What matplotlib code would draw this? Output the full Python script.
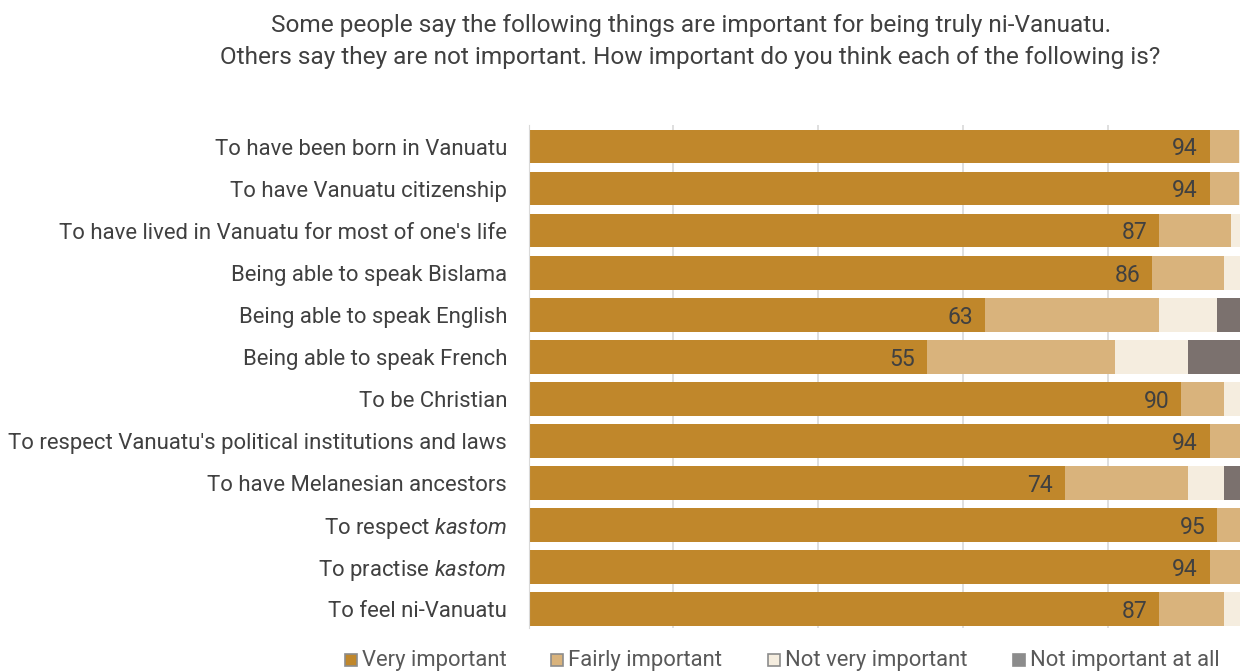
import numpy as np
import matplotlib
matplotlib.use('Agg')
import matplotlib.pyplot as plt
from matplotlib.patches import Rectangle

plt.rcParams['font.family'] = ['Roboto', 'DejaVu Sans']
plt.rcParams['mathtext.fontset'] = 'custom'
plt.rcParams['mathtext.rm'] = 'Roboto'
plt.rcParams['mathtext.it'] = 'Roboto:italic'

# statements, top to bottom
items = [
    'To have been born in Vanuatu',
    'To have Vanuatu citizenship',
    "To have lived in Vanuatu for most of one's life",
    'Being able to speak Bislama',
    'Being able to speak English',
    'Being able to speak French',
    'To be Christian',
    "To respect Vanuatu's political institutions and laws",
    'To have Melanesian ancestors',
    'To respect $\\it{kastom}$',
    'To practise $\\it{kastom}$',
    'To feel ni-Vanuatu',
]

very = [94, 94, 87, 86, 63, 55, 90, 94, 74, 95, 94, 87]
fairly = [4, 4, 10, 10, 24, 26, 6, 5, 17, 4, 5, 9]
not_very = [1, 1, 2, 3, 8, 10, 3, 1, 5, 1, 1, 3]
not_at_all = [1, 1, 1, 1, 5, 9, 1, 0, 4, 0, 0, 1]

series = ['Very important', 'Fairly important', 'Not very important', 'Not important at all']
colors = ['#C0872B', '#D9B37C', '#F5EDDF', '#7B716E']

fig = plt.figure(figsize=(12.4, 6.72), dpi=100)
ax = fig.add_axes([0.4263, 0.0655, 0.5737, 0.7485])

y = np.arange(len(items))[::-1]
left = np.zeros(len(items))
for vals, col in zip([very, fairly, not_very, not_at_all], colors):
    ax.barh(y, vals, left=left, height=0.79, color=col, zorder=2)
    left += np.array(vals)

for yi, v in zip(y, very):
    ax.text(v - 1.6, yi - 0.05, str(v), ha='right', va='center',
            fontsize=16.5, color='#404040', zorder=3)

ax.set_xlim(0, 98.2)
ax.set_ylim(-0.45, len(items) - 0.48)
ax.set_xticks([0, 20, 40, 60, 80])
ax.xaxis.grid(True, color='#D9D9D9', linewidth=1.2, zorder=0)
ax.tick_params(axis='x', length=0, labelbottom=False)
ax.tick_params(axis='y', length=0, pad=15.5)
ax.set_yticks(y)
ax.set_yticklabels(items, fontsize=15.9, color='#404040')
for s in ['top', 'right', 'bottom']:
    ax.spines[s].set_visible(False)
ax.spines['left'].set_color('#D9D9D9')

fig.text(0.557, 0.962, 'Some people say the following things are important for being truly ni-Vanuatu.',
         ha='center', va='center', fontsize=17.6, color='#404040')
fig.text(0.557, 0.914, 'Others say they are not important. How important do you think each of the following is?',
         ha='center', va='center', fontsize=17.6, color='#404040')

# legend row along the bottom edge
leg_x = [345, 551, 768, 1013]
leg_fill = colors[:3] + ['#8C8C8C']
W, H = 1240.0, 672.0
for x0, c, name in zip(leg_x, leg_fill, series):
    fig.patches.append(Rectangle((x0 / W, (H - 666) / H), 12 / W, 12 / H,
                                 transform=fig.transFigure, facecolor=c,
                                 edgecolor='#8C8C8C', linewidth=1.2))
    fig.text((x0 + 17) / W, (H - 666) / H, name, ha='left', va='baseline',
             fontsize=15.8, color='#595959')

fig.savefig('out.png', dpi=100)
